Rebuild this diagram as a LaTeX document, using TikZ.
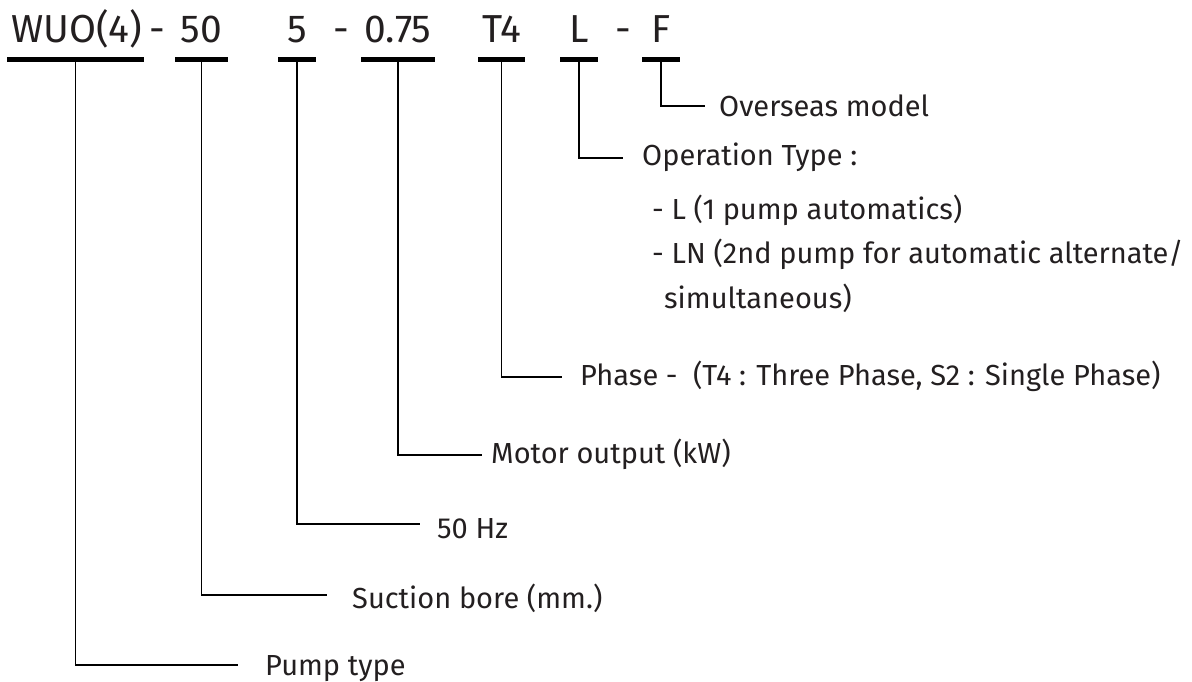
\documentclass[tikz,border=0pt]{standalone}
\usepackage{fontspec}
\setmainfont{Fira Sans}
\definecolor{txt}{HTML}{231F20}
\begin{document}
\begin{tikzpicture}[x=1pt,y=-1pt]
\tikzset{
  bar/.style={fill=black, draw=none, inner sep=0, minimum height=5pt},
  conn/.style={draw=black, line width=1.4pt},
  ttl/.style={anchor=base, inner sep=0, font=\fontsize{39}{47}\selectfont, text=txt},
  lbl/.style={anchor=base west, inner sep=0, font=\fontsize{29}{35}\selectfont, text=txt},
}
\useasboundingbox (0,0) rectangle (1192,681);
% title pieces
\node[ttl] (tW) at (76.5,42) {WUO(4)};
\node[ttl] (d1) at (157.5,42) {-};
\node[ttl] (t50) at (201.5,42) {50};
\node[ttl] (t5) at (297,42) {5};
\node[ttl] (d2) at (341,42) {-};
\node[ttl] (t075) at (398,42) {0.75};
\node[ttl] (tT4) at (501.5,42) {T4};
\node[ttl] (tL) at (579,42) {L};
\node[ttl] (d3) at (623.5,42) {-};
\node[ttl] (tF) at (661,42) {F};
% bars
\node[bar, minimum width=137pt] (bW) at (75.5,59.5) {};
\node[bar, minimum width=53pt] (b50) at (201.5,59.5) {};
\node[bar, minimum width=38pt] (b5) at (297,59.5) {};
\node[bar, minimum width=74pt] (b075) at (398,59.5) {};
\node[bar, minimum width=47pt] (bT4) at (501.5,59.5) {};
\node[bar, minimum width=38pt] (bL) at (579,59.5) {};
\node[bar, minimum width=38pt] (bF) at (661,59.5) {};
% connector ends
\coordinate (eF) at (705,106);
\coordinate (eL) at (623,158);
\coordinate (eT4) at (562,377);
\coordinate (e075) at (482,455);
\coordinate (e5) at (420,524);
\coordinate (e50) at (327,595);
\coordinate (eW) at (238,665);
\draw[conn] (bF.south) |- (eF);
\draw[conn] (bL.south) |- (eL);
\draw[conn] (bT4.south) |- (eT4);
\draw[conn] (b075.south) |- (e075);
\draw[conn] (b5.south) |- (e5);
\draw[conn] (b50.south) |- (e50);
\draw[conn] (bW.south) |- (eW);
% labels
\node[lbl] (lF) at (719,116) {Overseas model};
\node[lbl] (lL) at (642,165) {Operation Type :};
\node[lbl] (lL1) at (652,219) {- L (1 pump automatics)};
\node[lbl] (lL2) at (652,263) {- LN (2nd pump for automatic alternate/};
\node[lbl] (lL3) at (664,308) {simultaneous)};
\node[lbl] (lT4) at (580,385) {Phase -\ \ (T4 : Three Phase, S2 : Single Phase)};
\node[lbl] (l075) at (491,463) {Motor output (kW)};
\node[lbl] (l5) at (437,538) {50 Hz};
\node[lbl] (l50) at (352,608) {Suction bore (mm.)};
\node[lbl] (lW) at (265,675) {Pump type};
\end{tikzpicture}
\end{document}
